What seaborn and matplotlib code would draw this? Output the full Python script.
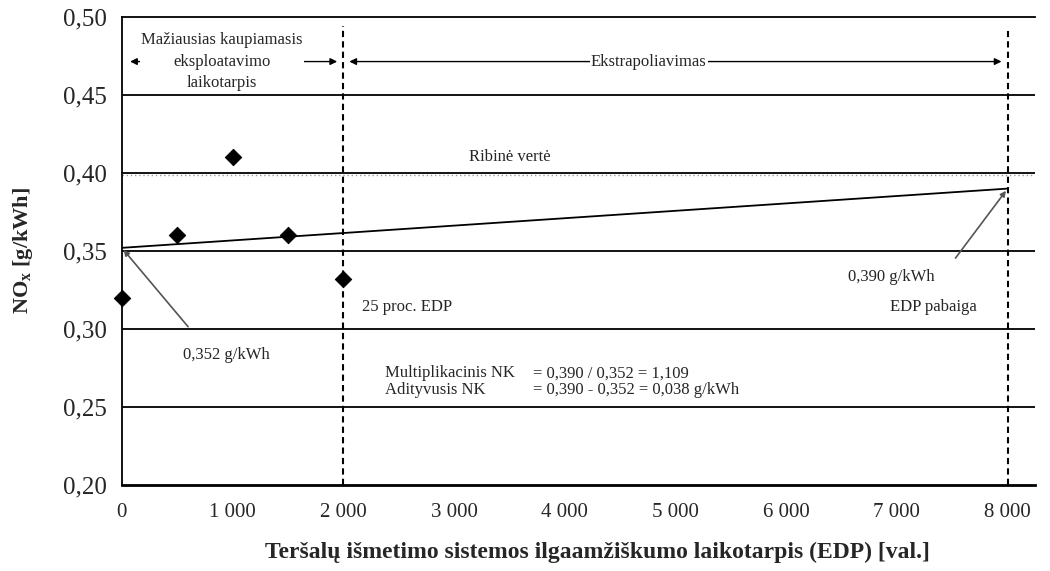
import matplotlib.pyplot as plt
import seaborn as sns
import pandas as pd
from matplotlib.ticker import FuncFormatter

# matavimų taškai
edp_hours = [0, 500, 1000, 1500, 2000]
nox_values = [0.320, 0.360, 0.410, 0.360, 0.332]

# ekstrapoliacijos linija
trend_hours = [0, 8000]
trend_values = [0.352, 0.390]

limit_value = 0.40
x_ticks = [0, 1000, 2000, 3000, 4000, 5000, 6000, 7000, 8000]
y_ticks = [0.20, 0.25, 0.30, 0.35, 0.40, 0.45, 0.50]

sns.set_theme(style="white")
plt.rcParams["font.family"] = ["Liberation Serif", "DejaVu Serif"]

fig = plt.figure(figsize=(10.5, 5.71), dpi=100)
ax = fig.add_axes([0.116, 0.151, 0.870, 0.819])

for y in y_ticks[1:-1]:
    ax.axhline(y, color="black", lw=1.3, zorder=1)
ax.axhline(limit_value - 0.0012, color="#999999", lw=1, ls=(0, (1, 2)), zorder=1)

for xv in [2000, 8000]:
    ax.axvline(xv, ymin=0, ymax=0.98 if xv == 2000 else 0.97, color="black",
               lw=1.5, ls=(0, (3, 2)), zorder=2)

pts = pd.DataFrame({"EDP": edp_hours, "NOx": nox_values})
trend = pd.DataFrame({"EDP": trend_hours, "NOx": trend_values})
sns.lineplot(data=trend, x="EDP", y="NOx", ax=ax, color="black", lw=1.3, zorder=3)
sns.scatterplot(data=pts, x="EDP", y="NOx", ax=ax, marker="D", s=70,
                color="black", edgecolor="black", zorder=4, clip_on=False)

ax.set_xlim(0, 8250)
ax.set_ylim(0.20, 0.50)
ax.set_xticks(x_ticks)
ax.set_yticks(y_ticks)
ax.xaxis.set_major_formatter(FuncFormatter(lambda v, p: f"{int(v):,}".replace(",", " ")))
ax.yaxis.set_major_formatter(FuncFormatter(lambda v, p: f"{v:.2f}".replace(".", ",")))
ax.tick_params(axis="both", direction="out", length=5, width=1, color="black")
ax.tick_params(axis="x", pad=8, labelsize=15)
ax.tick_params(axis="y", pad=6, labelsize=18)

for s in ["left", "top", "bottom"]:
    ax.spines[s].set_color("black")
    ax.spines[s].set_linewidth(1.3)
ax.spines["bottom"].set_linewidth(2)
ax.spines["right"].set_visible(False)

ax.set_xlabel("Teršalų išmetimo sistemos ilgaamžiškumo laikotarpis (EDP) [val.]",
              fontsize=17, fontweight="bold")
ax.xaxis.set_label_coords(0.521, -0.122)
ax.set_ylabel("NO$_\\mathregular{x}$ [g/kWh]", fontsize=16, fontweight="bold")
ax.yaxis.set_label_coords(-0.095, 0.5)

# rodyklės viršuje
arrow_y = 0.4715
ax.annotate("", xy=(50, arrow_y), xytext=(1970, arrow_y),
            arrowprops=dict(arrowstyle="<|-|>", color="black", lw=1, mutation_scale=10))
ax.annotate("", xy=(2030, arrow_y), xytext=(7970, arrow_y),
            arrowprops=dict(arrowstyle="<|-|>", color="black", lw=1, mutation_scale=10))
ax.text(905, 0.4715, "Mažiausias kaupiamasis\neksploatavimo\nlaikotarpis", ha="center",
        va="center", fontsize=12, linespacing=1.45,
        bbox=dict(facecolor="white", edgecolor="none", pad=1))
ax.text(4760, arrow_y, "Ekstrapoliavimas", ha="center", va="center", fontsize=12,
        bbox=dict(facecolor="white", edgecolor="none", pad=1))

ax.text(3500, 0.410, "Ribinė vertė", ha="center", va="center", fontsize=12)
ax.text(2170, 0.314, "25 proc. EDP", ha="left", va="center", fontsize=12)
ax.text(7333, 0.314, "EDP pabaiga", ha="center", va="center", fontsize=12)

ax.annotate("0,352 g/kWh", xy=(0, 0.352), xytext=(551, 0.2833), fontsize=12,
            ha="left", va="center")
ax.annotate("", xy=(0, 0.352), xytext=(615, 0.300),
            arrowprops=dict(arrowstyle="-|>", color="#555555", lw=1.2, mutation_scale=8))
ax.annotate("0,390 g/kWh", xy=(8000, 0.390), xytext=(6560, 0.3333), fontsize=12,
            ha="left", va="center")
ax.annotate("", xy=(8000, 0.390), xytext=(7514, 0.344),
            arrowprops=dict(arrowstyle="-|>", color="#555555", lw=1.2, mutation_scale=8))

ax.text(2380, 0.2715, "Multiplikacinis NK", ha="left", va="center", fontsize=12)
ax.text(2380, 0.2605, "Adityvusis NK", ha="left", va="center", fontsize=12)
ax.text(3710, 0.2715, "= 0,390 / 0,352 = 1,109", ha="left", va="center", fontsize=12)
ax.text(3710, 0.2605, "= 0,390 - 0,352 = 0,038 g/kWh", ha="left", va="center", fontsize=12)

fig.savefig("out.png", dpi=100)
